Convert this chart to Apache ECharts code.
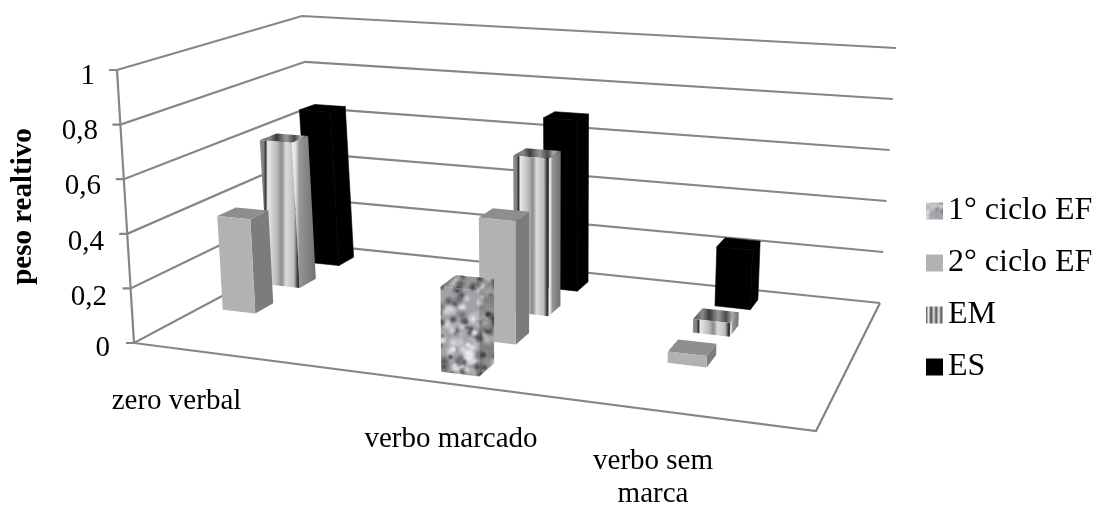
<!DOCTYPE html>
<html>
<head>
<meta charset="utf-8">
<style>html,body{margin:0;padding:0;background:#fff}#chart{width:1095px;height:505px}</style>
<script src="https://cdn.jsdelivr.net/npm/echarts@6/dist/echarts.min.js"></script>
</head>
<body>
<div id="chart"></div>
<script>
// Values per group, one entry per category; null means no column is drawn.
const categories = ['zero verbal', 'verbo marcado', 'verbo sem\nmarca'];
const cicloUm = [null, 0.3, null];
const cicloDois = [0.36, 0.45, 0.04];
const ensinoMedio = [0.58, 0.6, 0.05];
const ensinoSuperior = [0.64, 0.68, 0.23];
const yTicks = [0, 0.2, 0.4, 0.6, 0.8, 1];

const FONT = '"Liberation Serif", "Times New Roman", serif';
const LINE = '#868686';

// Floor corners on screen, and how far each corner rises (dx, dy) at the axis maximum.
const FLOOR = [[134, 343], [816, 431], [880, 303], [318, 245]];
const RISE = [[-17, -273], [15, -304], [16, -255], [-16, -229]];

// Column footprint in floor coordinates: left edge per category, front edge per depth row.
const CATEGORY_U = [0.038, 0.468, 0.755];
const COLUMN_W = 0.057;
const ROW_V = [0.07, 0.32, 0.57, 0.815];
const COLUMN_D = 0.098;

// Centres of the category captions.
const LABEL_POS = [[176.5, 401], [451, 439], [653, 478]];

function homography(p) {
  const [[x0, y0], [x1, y1], [x2, y2], [x3, y3]] = p;
  const dx1 = x1 - x2, dx2 = x3 - x2, sx = x0 - x1 + x2 - x3;
  const dy1 = y1 - y2, dy2 = y3 - y2, sy = y0 - y1 + y2 - y3;
  const den = dx1 * dy2 - dx2 * dy1;
  const g = (sx * dy2 - dx2 * sy) / den;
  const h = (dx1 * sy - sx * dy1) / den;
  const a = x1 - x0 + g * x1, b = x3 - x0 + h * x3, d = y1 - y0 + g * y1, e = y3 - y0 + h * y3;
  return (u, v) => {
    const w = g * u + h * v + 1;
    return [(a * u + b * v + x0) / w, (d * u + e * v + y0) / w];
  };
}
const floorAt = homography(FLOOR);

// u runs along the categories, v into the depth, t is the value as a fraction of the axis.
function project(u, v, t) {
  const f = floorAt(u, v);
  const mix = k => (1 - v) * ((1 - u) * RISE[0][k] + u * RISE[1][k]) + v * (u * RISE[2][k] + (1 - u) * RISE[3][k]);
  return [f[0] + mix(0) * t, f[1] + mix(1) * t];
}
function axisFraction(api, value) {
  const y0 = api.coord([0, 0])[1], y1 = api.coord([0, 1])[1];
  return (y0 - api.coord([0, value])[1]) / (y0 - y1);
}

// Mottled stone fill built from overlapping soft blobs on a repeating tile.
function stoneTile() {
  const size = 96, cv = document.createElement('canvas');
  cv.width = cv.height = size;
  const ctx = cv.getContext('2d');
  ctx.fillStyle = '#a2a2a6';
  ctx.fillRect(0, 0, size, size);
  const hash = n => { const s = Math.sin(n * 12.9898) * 43758.5453; return s - Math.floor(s); };
  const shades = ['#45454a', '#dcdce0', '#66666b', '#cfcfd3', '#ebebed', '#55555a', '#b8b8bc'];
  for (let i = 0; i < 230; i++) {
    const x = hash(i + 1) * size, y = hash(i + 501) * size;
    const r = 3 + hash(i + 901) * 4;
    const col = shades[Math.floor(hash(i + 1301) * shades.length)];
    for (const ox of [-size, 0, size]) for (const oy of [-size, 0, size]) {
      const gr = ctx.createRadialGradient(x + ox, y + oy, 0, x + ox, y + oy, r);
      gr.addColorStop(0, col);
      gr.addColorStop(1, col + '00');
      ctx.fillStyle = gr;
      ctx.fillRect(x + ox - r, y + oy - r, r * 2, r * 2);
    }
  }
  return cv;
}
const stone = { image: stoneTile(), repeat: 'repeat' };

function stripes(stops) {
  return { type: 'linear', x: 0, y: 0, x2: 1, y2: 0,
    colorStops: stops.map(s => ({ offset: s[0], color: s[1] })) };
}
const emFront = stripes([[0, '#8f8f8f'], [0.1, '#7d7d7d'], [0.15, '#333'], [0.2, '#e8e8e8'], [0.42, '#bdbdbd'],
  [0.55, '#8c8c8c'], [0.66, '#dcdcdc'], [0.86, '#bdbdbd'], [0.96, '#2a2a2a'], [1, '#555']]);
const emSide = stripes([[0, '#f2f2f2'], [0.15, '#e0e0e0'], [0.32, '#959595'], [1, '#707070']]);
const emTop = stripes([[0, '#555'], [0.2, '#8a8a8a'], [0.35, '#3c3c3c'], [0.55, '#999'], [0.72, '#4a4a4a'], [0.85, '#aaa'], [1, '#666']]);
const emLegend = stripes([[0, '#555'], [0.15, '#eee'], [0.3, '#444'], [0.45, '#ddd'], [0.6, '#555'], [0.75, '#eee'], [0.9, '#555'], [1, '#ccc']]);

const SKINS = {
  stone: { front: stone, side: stone, top: stone, sideShade: 'rgba(0,0,0,0.2)', topShade: 'rgba(0,0,0,0.08)' },
  gray: { front: '#b2b2b2', side: '#7c7c7c', top: '#8e8e8e' },
  stripe: { front: emFront, side: emSide, top: emTop },
  black: { front: '#000', side: '#000', top: '#000', edge: '#000' }
};

function columnItem(depth, skin) {
  return function (params, api) {
    const cat = api.value(0), val = api.value(1);
    if (isNaN(val)) return null;
    const t = axisFraction(api, val);
    const u0 = CATEGORY_U[cat], u1 = u0 + COLUMN_W;
    const v0 = ROW_V[depth], v1 = v0 + COLUMN_D;
    const s = SKINS[skin];
    const poly = (pts, fill) => ({ type: 'polygon', shape: { points: pts },
      style: { fill: fill, stroke: s.edge || null, lineWidth: s.edge ? 0.6 : 0 } });
    const side = [project(u1, v0, 0), project(u1, v1, 0), project(u1, v1, t), project(u1, v0, t)];
    const top = [project(u0, v0, t), project(u1, v0, t), project(u1, v1, t), project(u0, v1, t)];
    const front = [project(u0, v0, 0), project(u1, v0, 0), project(u1, v0, t), project(u0, v0, t)];
    const kids = [poly(side, s.side), poly(top, s.top), poly(front, s.front)];
    if (s.sideShade) kids.push(poly(side, s.sideShade), poly(top, s.topShade));
    return { type: 'group', children: kids };
  };
}
function columnSeries(name, values, depth, skin, legendFill) {
  return {
    type: 'custom', name: name, silent: true, clip: false, z: 10 - depth,
    coordinateSystem: 'cartesian2d', encode: { x: 0, y: 1 },
    itemStyle: { color: legendFill },
    renderItem: columnItem(depth, skin),
    data: values.map((v, i) => [i, v])
  };
}

// Wall gridlines, tick marks, the slanted value axis and the floor outline.
function boxItem(params, api) {
  const stroke = { stroke: LINE, lineWidth: 2.2, fill: null };
  const kids = yTicks.map(tick => {
    const t = axisFraction(api, tick);
    const a = project(0, 0, t), b = project(0, 1, t), c = project(1, 1, t);
    return { type: 'polyline', shape: { points: [[a[0] - 8, a[1]], a, b, c] }, style: stroke };
  });
  kids.push({ type: 'polyline', shape: { points: [project(0, 0, 0), project(0, 0, 1)] }, style: stroke });
  kids.push({ type: 'polyline', shape: { points: [project(0, 0, 0), project(1, 0, 0), project(1, 1, 0)] }, style: stroke });
  return { type: 'group', children: kids };
}

function categoryLabelItem(params, api) {
  const i = api.value(0), p = LABEL_POS[i];
  return { type: 'text', style: { text: categories[i], x: p[0], y: p[1], align: 'center', verticalAlign: 'middle',
    font: '29px ' + FONT, fill: '#000', lineHeight: 33 } };
}

const chart = echarts.init(document.getElementById('chart'), null, { renderer: 'canvas' });
chart.setOption({
  animation: false,
  backgroundColor: '#fff',
  grid: { left: 110, top: 76, width: 780, height: 277, outerBoundsMode: 'none' },
  xAxis: { type: 'category', data: categories, show: false },
  yAxis: {
    type: 'value', min: 0, max: 1, interval: 0.2,
    name: 'peso realtivo', nameLocation: 'middle', nameRotate: 90, nameGap: 72,
    nameTextStyle: { fontFamily: FONT, fontWeight: 'bold', fontSize: 29, color: '#000', padding: [0, 0, 0, 16] },
    axisLine: { show: false }, axisTick: { show: false }, splitLine: { show: false },
    axisLabel: {
      margin: 0,
      formatter: v => '{t' + Math.round(v * 5) + '|' + String(+v.toFixed(1)).replace('.', ',') + '}',
      rich: Object.fromEntries(yTicks.map(v => ['t' + Math.round(v * 5), {
        fontFamily: FONT, fontSize: 29, color: '#000', padding: [0, 15 * v, v === 0 ? 10 : 0, 0]
      }]))
    }
  },
  legend: {
    orient: 'vertical', left: 921, top: 190, itemWidth: 17, itemHeight: 17, itemGap: 20, icon: 'rect',
    data: ['1° ciclo EF', '2° ciclo EF', 'EM', 'ES'],
    textStyle: { fontFamily: FONT, fontSize: 32, color: '#000' },
    selectedMode: false
  },
  series: [
    { type: 'custom', name: 'caixa', silent: true, clip: false, z: 1, coordinateSystem: 'cartesian2d',
      encode: { x: 0, y: 1 }, renderItem: boxItem, data: [[0, 0]] },
    { type: 'custom', name: 'categorias', silent: true, clip: false, z: 2, coordinateSystem: 'cartesian2d',
      encode: { x: 0, y: 1 }, renderItem: categoryLabelItem, data: categories.map((c, i) => [i, 0]) },
    columnSeries('1° ciclo EF', cicloUm, 0, 'stone', stone),
    columnSeries('2° ciclo EF', cicloDois, 1, 'gray', '#b2b2b2'),
    columnSeries('EM', ensinoMedio, 2, 'stripe', emLegend),
    columnSeries('ES', ensinoSuperior, 3, 'black', '#000')
  ]
});
</script>
</body>
</html>
